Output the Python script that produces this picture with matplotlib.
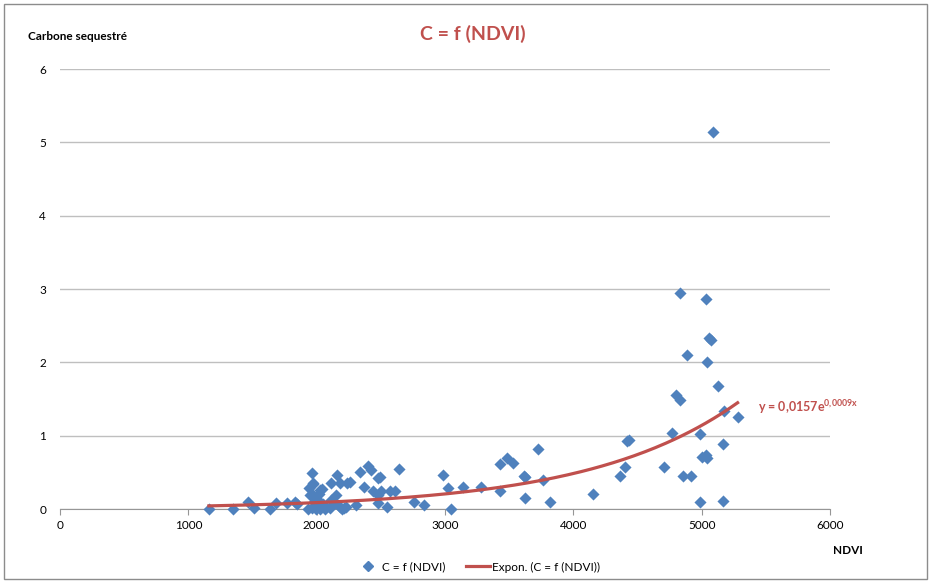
import numpy as np
import matplotlib
matplotlib.use("Agg")
import matplotlib.pyplot as plt
from matplotlib.patches import Rectangle
from matplotlib.lines import Line2D

plt.rcParams['font.family'] = ['Lato', 'DejaVu Sans']
plt.rcParams['mathtext.fontset'] = 'custom'
plt.rcParams['mathtext.rm'] = 'Lato'
plt.rcParams['mathtext.bf'] = 'Lato:bold'

# data: NDVI vs carbone sequestre
ndvi = [1160, 1345, 1465, 1515, 1635, 1685, 1765, 1830, 1845,
        1930, 1940, 1950, 1960, 1960, 1965, 1970, 1975, 1980, 1990, 1995,
        2010, 2015, 2025, 2025, 2040, 2050, 2065, 2105, 2115, 2115, 2135,
        2150, 2155, 2180, 2180, 2200, 2210, 2225, 2235, 2260, 2310, 2340,
        2365, 2400, 2420, 2440, 2475, 2480, 2480, 2495, 2505, 2545, 2570,
        2610, 2640, 2760, 2840, 2985, 3020, 3050, 3140, 3280, 3425, 3425,
        3480, 3530, 3615, 3625, 3625, 3725, 3765, 3820, 4155, 4365, 4400,
        4415, 4435, 4705, 4765, 4800, 4830, 4835, 4855, 4885, 4920, 4990,
        4990, 5000, 5030, 5030, 5040, 5045, 5060, 5075, 5090, 5130, 5170,
        5170, 5175, 5280]
carbone = [0.0, 0.0, 0.10, 0.01, 0.0, 0.08, 0.08, 0.10, 0.07,
           0.0, 0.29, 0.19, 0.49, 0.21, 0.01, 0.34, 0.35, 0.10, 0.10, 0.0,
           0.12, 0.21, 0.26, 0.0, 0.27, 0.07, 0.0, 0.01, 0.36, 0.12, 0.08,
           0.19, 0.46, 0.35, 0.03, 0.0, 0.01, 0.03, 0.35, 0.37, 0.05, 0.51,
           0.30, 0.58, 0.53, 0.24, 0.42, 0.19, 0.08, 0.44, 0.24, 0.03, 0.24,
           0.24, 0.55, 0.09, 0.05, 0.46, 0.29, 0.0, 0.30, 0.30, 0.61, 0.24,
           0.69, 0.63, 0.45, 0.43, 0.15, 0.82, 0.40, 0.09, 0.20, 0.45, 0.57,
           0.93, 0.94, 0.57, 1.03, 1.55, 1.49, 2.94, 0.45, 2.10, 0.45, 0.09,
           1.02, 0.71, 0.74, 2.87, 0.70, 2.00, 2.33, 2.31, 5.14, 1.68, 0.88,
           0.11, 1.33, 1.26]

# exponential trend (coefficients as drawn)
trend_a = 0.0157
trend_b = 0.000857
equation = r"y = 0,0157e$^{\mathbf{0{,}0009x}}$"

blue = '#4F81BD'
red = '#C0504D'
grid_col = '#BFBFBF'

fig = plt.figure(figsize=(9.32, 5.83), dpi=100)
ax = fig.add_axes([60/932, 1 - 509/583, 770/932, 440/583])

ax.scatter(ndvi, carbone, marker='D', s=38, color=blue, zorder=3,
           linewidths=0, clip_on=False)
xt = np.linspace(min(ndvi), max(ndvi), 200)
ax.plot(xt, trend_a * np.exp(trend_b * xt), color=red, lw=2.3, zorder=4)

ax.set_xlim(0, 6000)
ax.set_ylim(0, 6)
ax.set_xticks(range(0, 7000, 1000))
ax.set_yticks(range(0, 7))
ax.grid(axis='y', color=grid_col, lw=1)
ax.set_axisbelow(True)
for s in ['top', 'right', 'left']:
    ax.spines[s].set_visible(False)
ax.spines['bottom'].set_color('#969696')
ax.tick_params(axis='x', direction='out', length=4, color='#969696', labelsize=8.5, pad=4)
ax.tick_params(axis='y', length=0, labelsize=8.5, pad=10)

fig.text(78/932, 1 - 37/583, 'Carbone sequestré', fontsize=8.5, fontweight='bold',
         ha='center', va='center')
fig.text(473/932, 1 - 34/583, 'C = f (NDVI)', fontsize=14, fontweight='bold',
         color=red, ha='center', va='center')
fig.text(848/932, 1 - 551/583, 'NDVI', fontsize=8.5, fontweight='bold',
         ha='center', va='center')
fig.text(758/932, 1 - 407/583, equation, fontsize=9, fontweight='bold',
         color=red, ha='left', va='center')

handles = [Line2D([], [], marker='D', ls='none', color=blue, markersize=5),
           Line2D([], [], color=red, lw=2.3)]
fig.legend(handles, ['C = f (NDVI)', 'Expon. (C = f (NDVI))'], loc='center',
           bbox_to_anchor=(478/932, 1 - 567/583), ncol=2, frameon=False,
           fontsize=8.5, handlelength=2.0, columnspacing=1.8, handletextpad=0.2)

fig.patches.append(Rectangle((4/932, 1 - 579/583), 923/932, 575/583,
                             transform=fig.transFigure, fill=False,
                             edgecolor='#8C8C8C', lw=1))

fig.savefig('out.png', dpi=100)
